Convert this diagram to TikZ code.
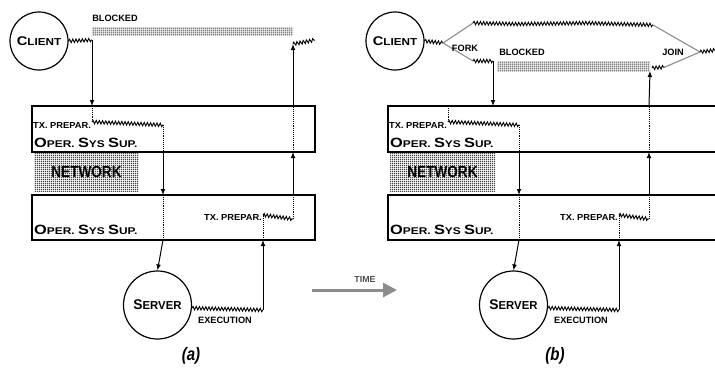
\documentclass[tikz,border=0pt]{standalone}
\usepackage{fontspec}
\setmainfont{Liberation Sans}
\usetikzlibrary{arrows.meta,decorations.pathmorphing,patterns.meta}

% fine grid of dots used for the shaded bars
\tikzdeclarepattern{
  name=dotgrid,
  type=uncolored,
  bounding box={(-1.1pt,-1.1pt) and (1.1pt,1.1pt)},
  tile size={(2.2pt,2.2pt)},
  code={\fill (0pt,0pt) circle (0.85pt);}
}

\tikzset{
  box/.style={draw, line width=1.2pt, inner sep=0pt, minimum height=46pt},
  circ/.style={circle, draw, line width=1.2pt, inner sep=0pt},
  arr/.style={-{Latex[length=6pt,width=4.8pt]}, line width=1pt},
  dotline/.style={densely dotted, line width=0.9pt},
  wig/.style={decorate, decoration={snake, amplitude=1.7pt, segment length=3.2pt}, line width=0.9pt},
  forkline/.style={draw=black!45, line width=1.1pt},
  grain/.style={pattern={dotgrid}, pattern color=black, inner sep=0pt},
  lbl/.style={font=\bfseries\fontsize{9.2}{10}\selectfont, inner sep=0pt},
  tx/.style={font=\bfseries\fontsize{8.3}{9}\selectfont, inner sep=0pt},
  subcap/.style={font=\bfseries\itshape\fontsize{15}{15}\selectfont, inner sep=0pt},
}

% small-caps style labels, built from two sizes of the same font
\newcommand\opertext{\scalebox{1.28}[1.05]{\bfseries
  \fontsize{12.8}{13}\selectfont O\fontsize{9.3}{10}\selectfont PER. %
  \fontsize{12.8}{13}\selectfont S\fontsize{9.3}{10}\selectfont YS %
  \fontsize{12.8}{13}\selectfont S\fontsize{9.3}{10}\selectfont UP.}}
\newcommand\clienttext{\scalebox{1.22}[1.05]{\bfseries
  \fontsize{12}{12}\selectfont C\fontsize{9.6}{10}\selectfont LIENT}}
\newcommand\servertext{\scalebox{1.03}[1.05]{\bfseries
  \fontsize{13.4}{13}\selectfont S\fontsize{11}{11}\selectfont ERVER}}

% parts shared by both panels: two OS boxes, the network, the server
% #1 = width of the OS boxes, #2 = x of their centre
\newcommand\panelcore[2]{%
  \node[box, minimum width=#1] (topbox) at (#2,129) {};
  \node[box, minimum width=#1, minimum height=45pt] (lowbox) at (#2,217.5) {};
  \node[grain, minimum width=105pt, minimum height=38pt] (net) at (86.5,172) {};
  \node[font=\bfseries\fontsize{16}{16}\selectfont, inner sep=0pt] (netlbl) at (net.center) {\scalebox{0.85}[1]{NETWORK}};
  \node[tx, anchor=west] (tp1) at (33,125) {\scalebox{1.12}[1.05]{TX. PREPAR.}};
  \node[inner sep=0pt, anchor=west] (os1) at (34,143) {\opertext};
  \node[inner sep=0pt, anchor=west] (os2) at (34,230) {\opertext};
  \node[tx, anchor=east] (tp2) at (262,217) {\scalebox{1.12}[1.05]{TX. PREPAR.}};
  \node[circ, minimum size=68pt] (srv) at (157.5,305) {\servertext};
  \node[lbl] (exlbl) at (225,320) {EXECUTION};
  \coordinate (tin) at (92,106);
  \coordinate (tw1) at (92,122);
  \coordinate (tm)  at (119,123);
  \coordinate (tw2) at (163,125);
  \coordinate (tb)  at (163,152);
  \coordinate (lt)  at (163,195);
  \coordinate (lb)  at (163,240);
  \coordinate (exm) at (226,309);
  \coordinate (ex)  at (263,310);
  \coordinate (ub)  at (263,240);
  \coordinate (uw1) at (263,215);
  \coordinate (uw2) at (293,219);
  \coordinate (ut)  at (293,195);
  \coordinate (rb)  at (293,152);
  \coordinate (rt)  at (293,106);
  % request path
  \draw[dotline] (tin) -- (tw1);
  \draw[wig] (tw1) -- (tm) -- (tw2);
  \draw[dotline] (tw2) -- (tb);
  \draw[arr] (tb) -- (lt);
  \draw[dotline] (lt) -- (lb);
  \draw[arr] (lb) -- (srv.north);
  % execution and reply path
  \draw[wig] (srv.-5) -- (exm) -- (ex);
  \draw[arr] (ex) -- (ub);
  \draw[dotline] (ub) -- (uw1);
  \draw[wig] (uw1) -- (uw2);
  \draw[dotline] (uw2) -- (ut);
  \draw[arr] (ut) -- (rb);
  \draw[dotline] (rb) -- (rt);
}

\begin{document}
\begin{tikzpicture}[x=1pt, y=-1pt]
\useasboundingbox (0,0) rectangle (715,368);

% ---------- panel (a): blocking call ----------
\begin{scope}[name prefix=a-]
  \panelcore{283}{173.5}
  \node[circ, minimum size=58pt] (cl) at (39,41) {\clienttext};
  \coordinate (cw) at (92,40);
  \draw[wig] (cl.east) -- (cw);
  \draw[arr] (cw) -- (tin);
  \node[grain, minimum width=201pt, minimum height=8pt] (bar) at (192.5,31) {};
  \node[lbl] (blk) at (115,18) {BLOCKED};
  \coordinate (rw) at (293,44);
  \coordinate (re) at (315,40);
  \draw[arr] (rt) -- (rw);
  \draw[wig] (rw) -- (re);
  \node[subcap] (capa) at (191,356) {\scalebox{1}[1.2]{(a)}};
\end{scope}

% ---------- time arrow ----------
\coordinate (t0) at (312,290);
\coordinate (t1) at (397,290);
\draw[line width=3pt, black!45, -{Triangle[length=14pt,width=14pt]}] (t0) -- (t1);
\node[lbl, text=black!70, font=\bfseries\fontsize{8.8}{9}\selectfont] (time) at (365,279) {TIME};

% ---------- panel (b): fork / join ----------
\begin{scope}[xshift=356pt, name prefix=b-]
  \panelcore{329}{196.5}
  \node[circ, minimum size=58pt] (cl) at (39,41) {\clienttext};
  \coordinate (F)  at (87,43);
  \coordinate (u1) at (117,23);
  \coordinate (um1) at (160,24);
  \coordinate (um2) at (230,23);
  \coordinate (u2) at (297,25);
  \coordinate (J)  at (344,52);
  \coordinate (je) at (360,50);
  \coordinate (l1) at (117,61);
  \coordinate (l2) at (137,61);
  \coordinate (dn) at (137,106);
  \coordinate (rw) at (294,71);
  \coordinate (r1) at (296,68);
  \coordinate (r2) at (309,67);
  \draw[wig] (cl.east) -- (F);
  \draw[forkline] (F) -- (u1);
  \draw[forkline] (F) -- (l1);
  \draw[wig] (u1) -- (um1) -- (um2) -- (u2);
  \draw[forkline] (u2) -- (J);
  \draw[wig] (J) -- (je);
  \draw[wig] (l1) -- (l2);
  \draw[arr] (l2) -- (dn);
  \node[grain, minimum width=153pt, minimum height=10pt] (bar) at (217.5,66) {};
  \draw[arr] (rt) -- (rw);
  \draw[wig] (r1) -- (r2);
  \draw[forkline] (r2) -- (J);
  \node[lbl] (fork) at (109,48) {FORK};
  \node[lbl] (blk) at (166,52) {BLOCKED};
  \node[lbl] (join) at (317,52) {JOIN};
  \node[subcap] (capb) at (199,356) {\scalebox{1}[1.2]{(b)}};
\end{scope}
\end{tikzpicture}
\end{document}
